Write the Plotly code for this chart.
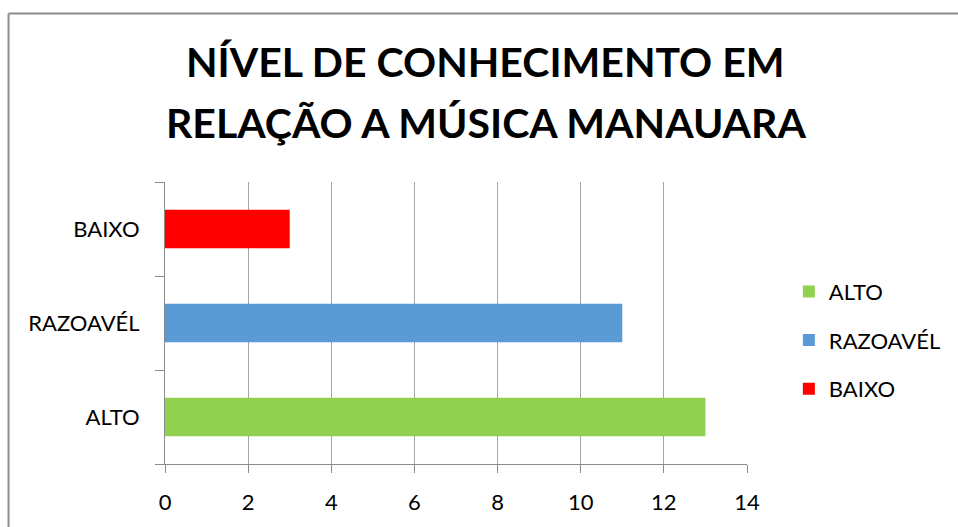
import plotly.graph_objects as go

categories = ["ALTO", "RAZOAVÉL", "BAIXO"]
values = [13, 11, 3]
colors = ["#92D050", "#5B9BD5", "#FF0000"]
title_lines = ["NÍVEL DE CONHECIMENTO EM", "RELAÇÃO A MÚSICA MANAUARA"]
x_ticks = [0, 2, 4, 6, 8, 10, 12, 14]

W, H = 958, 527
ML, MR, MT, MB = 165, 209, 182, 58
PW = W - ML - MR
PH = H - MT - MB

def px_x(p):
    return (p - ML) / PW

def px_y(p):
    return (H - MB - p) / PH

FONT = "Lato"
fig = go.Figure()
for cat, val, col in zip(categories, values, colors):
    fig.add_trace(go.Bar(
        y=[cat], x=[val], orientation="h", name=cat,
        marker=dict(color=col, line=dict(width=0)),
        legendgroup=cat, hoverinfo="x+y",
    ))

fig.update_layout(
    width=W, height=H,
    margin=dict(l=ML, r=MR, t=MT, b=MB),
    paper_bgcolor="white", plot_bgcolor="white",
    barmode="overlay", bargap=0.59,
    font=dict(family=FONT, size=22, color="black"),
    showlegend=True,
    legend=dict(
        x=px_x(791), xanchor="left", y=px_y(343), yanchor="middle",
        font=dict(family=FONT, size=22, color="black"),
        traceorder="grouped", tracegroupgap=17,
        bgcolor="rgba(0,0,0,0)",
    ),
    xaxis=dict(
        range=[0, 14], tickvals=x_ticks, showgrid=True, gridcolor="#a6a6a6", gridwidth=1,
        showline=True, linecolor="#8c8c8c", linewidth=1,
        ticks="outside", ticklen=8, tickcolor="#8c8c8c", zeroline=False,
        ticklabelstandoff=11,
        tickfont=dict(family=FONT, size=22, color="black"), fixedrange=True,
    ),
    yaxis=dict(
        type="category", categoryorder="array", categoryarray=categories,
        tickson="boundaries", ticks="outside", ticklen=9, tickcolor="#8c8c8c",
        showline=True, linecolor="#8c8c8c", linewidth=1, showgrid=False,
        ticklabelstandoff=20,
        tickfont=dict(family=FONT, size=22, color="black"), fixedrange=True,
    ),
)

for text, yc in zip(title_lines, [59.5, 121]):
    fig.add_annotation(
        text="<b>" + text + "</b>", x=px_x(487), y=px_y(yc), xref="paper", yref="paper",
        xanchor="center", yanchor="middle", showarrow=False,
        font=dict(family=FONT, size=41, color="black"),
    )

fig.add_shape(type="line", xref="paper", yref="paper",
              x0=px_x(8), x1=px_x(8), y0=px_y(10.5), y1=px_y(540),
              line=dict(color="#8c8c8c", width=2))
fig.add_shape(type="line", xref="paper", yref="paper",
              x0=px_x(8), x1=px_x(970), y0=px_y(10.5), y1=px_y(10.5),
              line=dict(color="#8c8c8c", width=2))

fig.write_html("out.html", config={"displayModeBar": False},
               post_script="document.body.style.margin='0';document.body.style.overflow='hidden';")
